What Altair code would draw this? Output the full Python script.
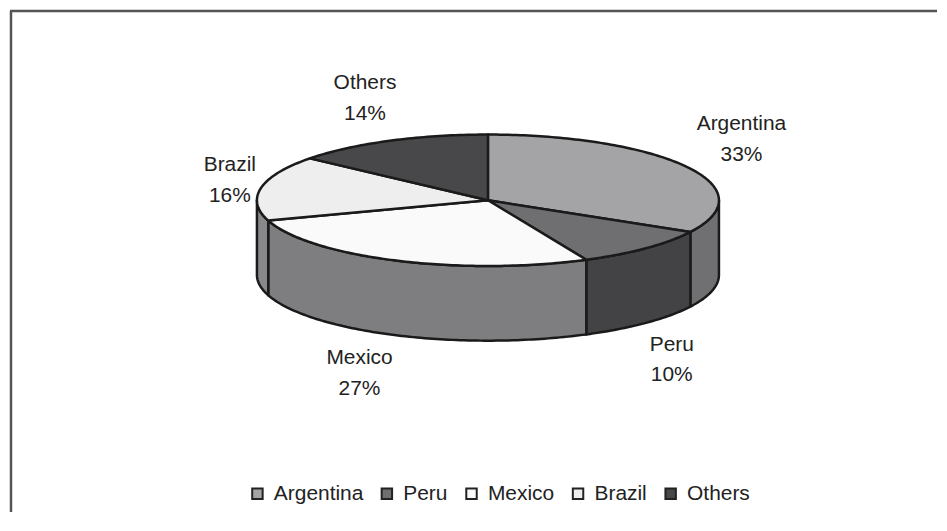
import math
import altair as alt
import pandas as pd

# ---- data ----
countries = ["Argentina", "Peru", "Mexico", "Brazil", "Others"]
shares = [33, 10, 27, 16, 14]
top_colors = ["#a4a4a6", "#6f6f72", "#fafafa", "#eeeeee", "#48484a"]
side_colors = ["#707073", "#434345", "#7e7e81", "#88888b", "#2e2e30"]

# ---- layout ----
W, H = 931, 505
CX, CY = 480, 192
RX, RY = 232, 66
DEPTH = 75
KX, KY = 290, 118
label_reach = [1.02, 0.93, 1.12, 0.91, 1.0]
label_drop = [0, 80, 52, 0, 4]


def pt(t_deg, dy=0.0):
    t = math.radians(t_deg)
    return CX + RX * math.sin(t), CY - RY * math.cos(t) + dy


def arc(a0, a1, dy=0.0):
    n = max(2, int(abs(a1 - a0)) + 1)
    return [pt(a0 + (a1 - a0) * k / (n - 1), dy) for k in range(n)]


total = sum(shares)
top_rows, side_rows, label_rows = [], [], []
start = 0.0
for i, (c, s) in enumerate(zip(countries, shares)):
    a0 = start
    a1 = start + 360.0 * s / total
    start = a1
    poly = [(CX, CY)] + arc(a0, a1)
    for k, (x, y) in enumerate(poly):
        top_rows.append(dict(country=c, i=k, x=x, y=y))
    s0, s1 = max(a0, 90.0), min(a1, 270.0)
    if s1 > s0:
        poly = arc(s0, s1) + arc(s1, s0, DEPTH)
        for k, (x, y) in enumerate(poly):
            side_rows.append(dict(country=c, color=side_colors[i], i=k, x=x, y=y))
    mid = math.radians((a0 + a1) / 2)
    label_rows.append(dict(
        country=c,
        label=f"{c}\n{round(100 * s / total)}%",
        x=CX + label_reach[i] * KX * math.sin(mid),
        y=CY - label_reach[i] * KY * math.cos(mid) + label_drop[i],
    ))

top_df = pd.DataFrame(top_rows)
side_df = pd.DataFrame(side_rows)
label_df = pd.DataFrame(label_rows)

xs = alt.X("x:Q", scale=alt.Scale(domain=[0, W], nice=False, zero=False), axis=None)
ys = alt.Y("y:Q", scale=alt.Scale(domain=[0, H], reverse=True, nice=False, zero=False), axis=None)

line_style = dict(interpolate="linear-closed", stroke="#1a1a1a", strokeWidth=2.5, strokeJoin="round")

sides = alt.Chart(side_df).mark_line(**line_style).encode(
    x=xs, y=ys, order=alt.Order("i:Q"), detail="country:N",
    fill=alt.Fill("color:N", scale=None),
)

tops = alt.Chart(top_df).mark_line(**line_style).encode(
    x=xs, y=ys, order=alt.Order("i:Q"), detail="country:N",
    fill=alt.Fill(
        "country:N",
        scale=alt.Scale(domain=countries, range=top_colors),
        legend=alt.Legend(
            title=None, orient="none", legendX=238, legendY=476,
            direction="horizontal", symbolType="square", symbolSize=110,
            symbolStrokeColor="#222", symbolStrokeWidth=2,
            labelFont="Liberation Sans", labelFontSize=21, labelColor="#222",
            columnPadding=13, labelOffset=6, padding=0,
        ),
    ),
)

labels = alt.Chart(label_df).mark_text(
    font="Liberation Sans", fontSize=21, lineBreak="\n", lineHeight=31,
    color="#222", align="center", baseline="middle", dy=-15,
).encode(x=xs, y=ys, text="label:N")

frame = pd.DataFrame({"k": [0]})
top_border = alt.Chart(frame).mark_rule(color="#555", strokeWidth=2.5).encode(
    x=alt.value(0), x2=alt.value(W), y=alt.value(2)
)
left_border = alt.Chart(frame).mark_rule(color="#555", strokeWidth=2.5).encode(
    x=alt.value(1), y=alt.value(2), y2=alt.value(H)
)

chart = alt.layer(top_border, left_border, sides, tops, labels).resolve_scale(
    fill="independent"
).properties(width=W, height=H, padding=0).configure_view(stroke=None)

chart.save("out.html", embed_options={"renderer": "svg", "actions": False})
